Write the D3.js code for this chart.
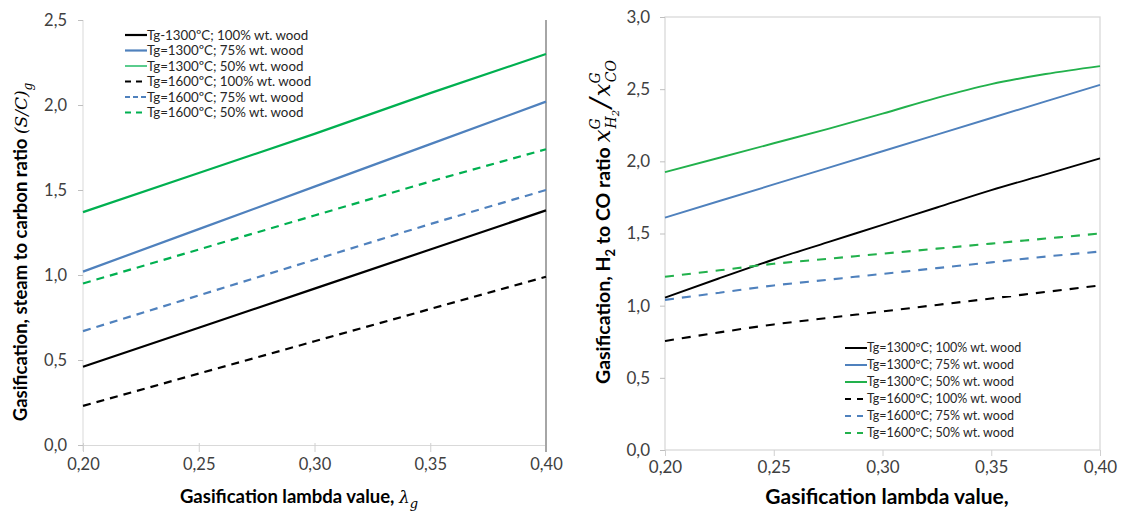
<!DOCTYPE html>
<html><head><meta charset="utf-8">
<script src="https://cdn.jsdelivr.net/npm/d3@7"></script>
<style>
body{margin:0;background:#fff;}
svg{display:block;font-family:Lato,"Open Sans",sans-serif;}
</style></head>
<body>
<svg id="c" width="1121" height="513"></svg>
<script>
// ---- data ----
const lambdas = [0.20, 0.25, 0.30, 0.35, 0.40];
const xTicks = [0.20, 0.25, 0.30, 0.35, 0.40];
const leftYTicks = [0, 0.5, 1.0, 1.5, 2.0, 2.5];
const rightYTicks = [0, 0.5, 1.0, 1.5, 2.0, 2.5, 3.0];
const seriesNames = ["Tg=1300ºC; 100% wt. wood","Tg=1300ºC; 75% wt. wood","Tg=1300ºC; 50% wt. wood",
                     "Tg=1600ºC; 100% wt. wood","Tg=1600ºC; 75% wt. wood","Tg=1600ºC; 50% wt. wood"];
const leftNames = ["Tg-1300ºC; 100% wt. wood","Tg=1300ºC; 75% wt. wood","Tg=1300ºC; 50% wt. wood",
                   "Tg=1600ºC; 100% wt. wood","Tg=1600ºC; 75% wt. wood","Tg=1600ºC; 50% wt. wood"];
// left: steam to carbon ratio
const sc1300_100 = [0.46, 0.69, 0.92, 1.15, 1.38];
const sc1300_75  = [1.02, 1.27, 1.52, 1.77, 2.02];
const sc1300_50  = [1.37, 1.60, 1.83, 2.07, 2.30];
const sc1600_100 = [0.23, 0.42, 0.61, 0.80, 0.99];
const sc1600_75  = [0.67, 0.88, 1.09, 1.30, 1.50];
const sc1600_50  = [0.95, 1.15, 1.35, 1.55, 1.74];
// right: H2/CO ratio
const lambdasR = [0.20, 0.225, 0.25, 0.275, 0.30, 0.325, 0.35, 0.375, 0.40];
const hc1300_100 = [1.055, 1.19, 1.32, 1.44, 1.56, 1.68, 1.80, 1.91, 2.02];
const hc1300_75  = [1.61, 1.725, 1.84, 1.955, 2.07, 2.185, 2.30, 2.415, 2.53];
const hc1300_50  = [1.925, 2.025, 2.125, 2.225, 2.33, 2.44, 2.535, 2.605, 2.66];
const hc1600_100 = [0.755, 0.815, 0.87, 0.915, 0.96, 1.005, 1.05, 1.095, 1.14];
const hc1600_75  = [1.04, 1.09, 1.14, 1.18, 1.22, 1.26, 1.30, 1.34, 1.375];
const hc1600_50  = [1.20, 1.245, 1.29, 1.325, 1.36, 1.395, 1.43, 1.465, 1.50];

const colors = ["#000000","#4F81BD","#00B050","#000000","#4F81BD","#00B050"];
const dashed = [false,false,false,true,true,true];

const svg = d3.select("#c");
const loc = d3.formatLocale({decimal:",",thousands:".",grouping:[3],currency:["",""]});
const f1 = loc.format(".1f"), f2 = loc.format(".2f");

// ---------- LEFT CHART ----------
const xL = d3.scaleLinear().domain([0.2,0.4]).range([83,546]);
const yL = d3.scaleLinear().domain([0,2.5]).range([445,20]);
const gL = svg.append("g");

gL.append("line").attr("x1",xL(0.2)).attr("x2",xL(0.2)).attr("y1",yL(2.5)).attr("y2",yL(0)+6)
  .attr("stroke","#d9d9d9").attr("stroke-width",1);
const axBL = d3.axisBottom(xL).tickValues(xTicks).tickSize(7).tickFormat(f2);
const gxL = gL.append("g").attr("transform",`translate(0,${yL(0)})`).call(axBL);
gxL.select(".domain").attr("stroke","#d9d9d9");
gxL.selectAll(".tick line").attr("stroke","#d0d0d0").attr("y1",-2);
gxL.selectAll(".tick text").attr("font-size",16.5).attr("fill","#404040").attr("font-family","Lato").attr("dy","1.05em").attr("y",8);
const ayL = d3.axisLeft(yL).tickValues(leftYTicks).tickSize(5).tickFormat(f1);
const gyL = gL.append("g").attr("transform",`translate(${xL(0.2)},0)`).call(ayL);
gyL.select(".domain").remove();
gyL.selectAll(".tick line").attr("stroke","#bfbfbf");
gyL.selectAll(".tick text").attr("font-size",16.5).attr("fill","#404040").attr("font-family","Lato").attr("x",-16);
gL.append("line").attr("x1",xL(0.4)).attr("x2",xL(0.4)).attr("y1",yL(2.5)).attr("y2",yL(0)+7)
  .attr("stroke","#a6a6a6").attr("stroke-width",2);

const leftSeries = [sc1300_100,sc1300_75,sc1300_50,sc1600_100,sc1600_75,sc1600_50];
const lineL = d3.line().x((d,i)=>xL(lambdas[i])).y(d=>yL(d));
leftSeries.forEach((s,k)=>{
  gL.append("path").datum(s).attr("d",lineL).attr("fill","none")
    .attr("stroke",colors[k]).attr("stroke-width",2.2)
    .attr("stroke-dasharray",dashed[k]?"8,6":null);
});
leftNames.forEach((n,k)=>{
  const y = 35 + k*15.5;
  gL.append("line").attr("x1",125).attr("x2",147).attr("y1",y).attr("y2",y)
    .attr("stroke",colors[k]).attr("stroke-width",k===2?1.3:2.2)
    .attr("stroke-dasharray",dashed[k]?(k===4?"5,3":"6,5"):null);
  gL.append("text").attr("x",147).attr("y",y).attr("dy","0.35em").attr("font-size",13.3)
    .attr("fill","#262626").text(n);
});
gL.append("text").attr("x",299).attr("y",503).attr("text-anchor","middle")
  .attr("font-size",18.5).attr("font-weight","bold").attr("fill","#000")
  .call(t=>{t.append("tspan").text("Gasification lambda value, ");
           t.append("tspan").attr("font-family","DejaVu Serif").attr("font-style","italic").attr("font-weight","normal").attr("font-size",17).text("λ");
           t.append("tspan").attr("font-family","DejaVu Serif").attr("font-style","italic").attr("font-weight","normal").attr("font-size",13).attr("dy",5).text("g");});
gL.append("text").attr("transform","translate(27,252) rotate(-90)").attr("text-anchor","middle")
  .attr("font-size",18.5).attr("font-weight","bold").attr("fill","#000")
  .call(t=>{t.append("tspan").text("Gasification, steam to carbon ratio ");
           t.append("tspan").attr("font-family","DejaVu Serif").attr("font-weight","normal").attr("font-style","italic").attr("font-size",17).text("(S/C)");
           t.append("tspan").attr("font-family","DejaVu Serif").attr("font-weight","normal").attr("font-style","italic").attr("font-size",12).attr("dy",5).text("g");});

// ---------- RIGHT CHART ----------
const xR = d3.scaleLinear().domain([0.2,0.4]).range([665,1100]);
const yR = d3.scaleLinear().domain([0,3]).range([450,17]);
const gR = svg.append("g");
gR.append("rect").attr("x",xR(0.2)).attr("y",yR(3)).attr("width",xR(0.4)-xR(0.2)).attr("height",yR(0)-yR(3))
  .attr("fill","none").attr("stroke","#d9d9d9").attr("stroke-width",1.3);
const axBR = d3.axisBottom(xR).tickValues(xTicks).tickSize(6).tickFormat(f2);
const gxR = gR.append("g").attr("transform",`translate(0,${yR(0)})`).call(axBR);
gxR.select(".domain").remove();
gxR.selectAll(".tick line").attr("stroke","#d0d0d0");
gxR.selectAll(".tick text").attr("font-size",17).attr("fill","#404040").attr("font-family","Lato").attr("dy","1.05em").attr("y",5);
const ayR = d3.axisLeft(yR).tickValues(rightYTicks).tickSize(5).tickFormat(f1);
const gyR = gR.append("g").attr("transform",`translate(${xR(0.2)},0)`).call(ayR);
gyR.select(".domain").remove();
gyR.selectAll(".tick line").attr("stroke","#bfbfbf");
gyR.selectAll(".tick text").attr("font-size",17).attr("fill","#404040").attr("font-family","Lato").attr("x",-15);

const rightSeries = [hc1300_100,hc1300_75,hc1300_50,hc1600_100,hc1600_75,hc1600_50];
const colorsR = ["#000000","#4F81BD","#22B14C","#000000","#4F81BD","#22B14C"];
const lineR = d3.line().x((d,i)=>xR(lambdasR[i])).y(d=>yR(d)).curve(d3.curveMonotoneX);
rightSeries.forEach((s,k)=>{
  gR.append("path").datum(s).attr("d",lineR).attr("fill","none")
    .attr("stroke",colorsR[k]).attr("stroke-width",k<3?1.9:2.1)
    .attr("stroke-dasharray",dashed[k]?"9,8":null);
});
seriesNames.forEach((n,k)=>{
  const y = 348 + k*17;
  gR.append("line").attr("x1",845).attr("x2",867).attr("y1",y).attr("y2",y)
    .attr("stroke",colorsR[k]).attr("stroke-width",2)
    .attr("stroke-dasharray",dashed[k]?"6,6":null);
  gR.append("text").attr("x",867).attr("y",y).attr("dy","0.35em").attr("font-size",12.5)
    .attr("fill","#262626").text(n);
});
gR.append("text").attr("x",887).attr("y",504).attr("text-anchor","middle")
  .attr("font-size",21).attr("font-weight","bold").attr("fill","#000").text("Gasification lambda value,");
gR.append("text").attr("transform","translate(610,222) rotate(-90)").attr("text-anchor","middle")
  .attr("font-size",19.5).attr("font-weight","bold").attr("fill","#000")
  .call(t=>{
    t.append("tspan").text("Gasification, H");
    t.append("tspan").attr("font-size",13).attr("dy",5).text("2");
    t.append("tspan").attr("dy",-5).text(" to CO ratio ");
    const m = {"font-family":"DejaVu Serif","font-style":"italic","font-weight":"normal"};
    const sp=(txt,size,dy,dx)=>{const s=t.append("tspan");Object.entries(m).forEach(([a,v])=>s.attr(a,v));
      s.attr("font-size",size).text(txt); if(dy)s.attr("dy",dy); if(dx)s.attr("dx",dx); return s;};
    sp("x",23);
    sp("G",14,-10);
    sp("H",14,16,-10);
    sp("2",10,3);
    sp("/",28,-9,2);
    sp("x",23,0,2);
    sp("G",14,-10);
    sp("CO",14,16,-10);
  });
</script>
</body></html>
